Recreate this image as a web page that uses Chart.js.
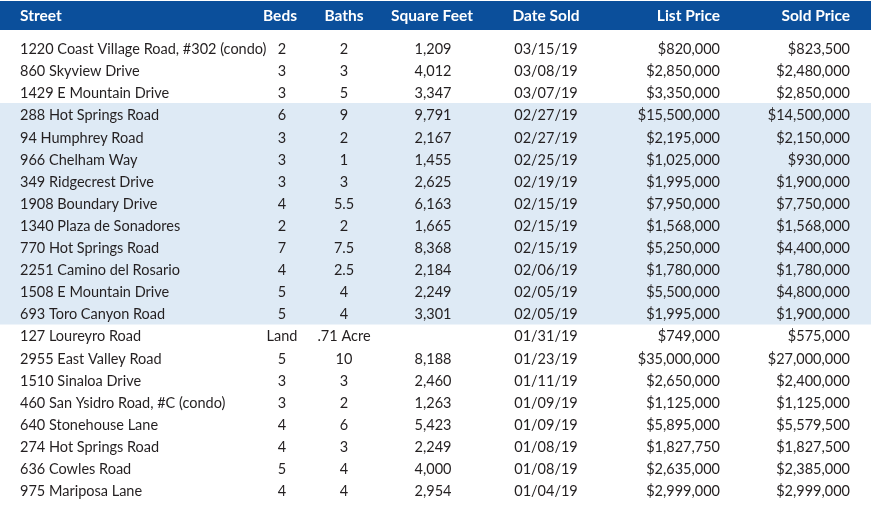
<!DOCTYPE html>
<html>
<head>
<meta charset="utf-8">
<script src="https://cdn.jsdelivr.net/npm/chart.js@4/dist/chart.umd.min.js"></script>
<style>
  html, body { margin: 0; padding: 0; background: #fff; }
  #wrap { width: 874px; height: 521px; }
</style>
</head>
<body>
<div id="wrap"><canvas id="table" width="874" height="521"></canvas></div>
<script>
const HEADERS = ['Street', 'Beds', 'Baths', 'Square Feet', 'Date Sold', 'List Price', 'Sold Price'];

const streets = [
  '1220 Coast Village Road, #302 (condo)',
  '860 Skyview Drive',
  '1429 E Mountain Drive',
  '288 Hot Springs Road',
  '94 Humphrey Road',
  '966 Chelham Way',
  '349 Ridgecrest Drive',
  '1908 Boundary Drive',
  '1340 Plaza de Sonadores',
  '770 Hot Springs Road',
  '2251 Camino del Rosario',
  '1508 E Mountain Drive',
  '693 Toro Canyon Road',
  '127 Loureyro Road',
  '2955 East Valley Road',
  '1510 Sinaloa Drive',
  '460 San Ysidro Road, #C (condo)',
  '640 Stonehouse Lane',
  '274 Hot Springs Road',
  '636 Cowles Road',
  '975 Mariposa Lane',
];
const beds = ['2', '3', '3', '6', '3', '3', '3', '4', '2', '7', '4', '5', '5', 'Land', '5', '3', '3', '4', '4', '5', '4'];
const baths = ['2', '3', '5', '9', '2', '1', '3', '5.5', '2', '7.5', '2.5', '4', '4', '.71 Acre', '10', '3', '2', '6', '3', '4', '4'];
const squareFeet = [1209, 4012, 3347, 9791, 2167, 1455, 2625, 6163, 1665, 8368, 2184, 2249, 3301, null, 8188, 2460, 1263, 5423, 2249, 4000, 2954];
const dateSold = [
  '03/15/19', '03/08/19', '03/07/19', '02/27/19', '02/27/19', '02/25/19', '02/19/19',
  '02/15/19', '02/15/19', '02/15/19', '02/06/19', '02/05/19', '02/05/19', '01/31/19',
  '01/23/19', '01/11/19', '01/09/19', '01/09/19', '01/08/19', '01/08/19', '01/04/19',
];
const listPrice = [820000, 2850000, 3350000, 15500000, 2195000, 1025000, 1995000, 7950000, 1568000, 5250000, 1780000, 5500000, 1995000, 749000, 35000000, 2650000, 1125000, 5895000, 1827750, 2635000, 2999000];
const soldPrice = [823500, 2480000, 2850000, 14500000, 2150000, 930000, 1900000, 7750000, 1568000, 4400000, 1780000, 4800000, 1900000, 575000, 27000000, 2400000, 1125000, 5579500, 1827500, 2385000, 2999000];
// rows shaded light blue (February sales)
const shaded = [false, false, false, true, true, true, true, true, true, true, true, true, true, false, false, false, false, false, false, false, false];

const fmtNum = (v) => (v == null ? '' : v.toLocaleString('en-US'));
const fmtMoney = (v) => '$' + v.toLocaleString('en-US');

const TABLE_RIGHT = 871;
const HEADER_BLUE = '#0b4f9b';
const BAND_BLUE = '#deeaf5';
const TEXT = '#231f20';
const FONT = 'Lato, "Open Sans", sans-serif';

// column anchor (x in table units) and alignment
const columns = [
  { x: 20, align: 'left', cells: streets },
  { x: 282, align: 'center', cells: beds },
  { x: 344, align: 'center', cells: baths },
  { x: 433, align: 'center', cells: squareFeet.map(fmtNum) },
  { x: 546, align: 'center', cells: dateSold },
  { x: 720, align: 'right', cells: listPrice.map(fmtMoney) },
  { x: 850, align: 'right', cells: soldPrice.map(fmtMoney) },
];
const headerX = [20, 280, 344, 432, 546, 720, 850];

const tablePlugin = {
  id: 'tableText',
  beforeDatasetsDraw(chart) {
    const { ctx, scales } = chart;
    const x0 = scales.x.getPixelForValue(0);
    const x1 = scales.x.getPixelForValue(TABLE_RIGHT);
    ctx.save();
    ctx.fillStyle = HEADER_BLUE;
    ctx.fillRect(x0, 1, x1 - x0, 29);
    ctx.fillStyle = '#fff';
    ctx.font = 'bold 15.5px ' + FONT;
    ctx.textBaseline = 'middle';
    HEADERS.forEach((h, i) => {
      ctx.textAlign = columns[i].align;
      ctx.fillText(h, scales.x.getPixelForValue(headerX[i]), 16);
    });
    ctx.restore();
  },
  afterDatasetsDraw(chart) {
    const { ctx, scales } = chart;
    ctx.save();
    ctx.fillStyle = TEXT;
    ctx.font = '14.5px ' + FONT;
    ctx.textBaseline = 'middle';
    columns.forEach((col) => {
      ctx.textAlign = col.align;
      const x = scales.x.getPixelForValue(col.x);
      col.cells.forEach((txt, i) => {
        if (!txt) return;
        ctx.fillText(txt, x, scales.y.getPixelForValue(i) + 1.5);
      });
    });
    ctx.restore();
  },
};

new Chart(document.getElementById('table'), {
  type: 'bar',
  data: {
    labels: streets,
    datasets: [
      {
        label: 'band',
        data: shaded.map((s) => (s ? TABLE_RIGHT : null)),
        backgroundColor: BAND_BLUE,
        borderWidth: 0,
        barPercentage: 1,
        categoryPercentage: 1,
      },
    ],
  },
  options: {
    indexAxis: 'y',
    responsive: false,
    animation: false,
    layout: { padding: { top: 36.95, bottom: 19.95, left: 0, right: 3 } },
    scales: {
      x: { type: 'linear', min: 0, max: TABLE_RIGHT, display: false },
      y: { type: 'category', display: false, offset: true },
    },
    plugins: {
      legend: { display: false },
      tooltip: { enabled: false },
    },
  },
  plugins: [tablePlugin],
});
</script>
</body>
</html>
